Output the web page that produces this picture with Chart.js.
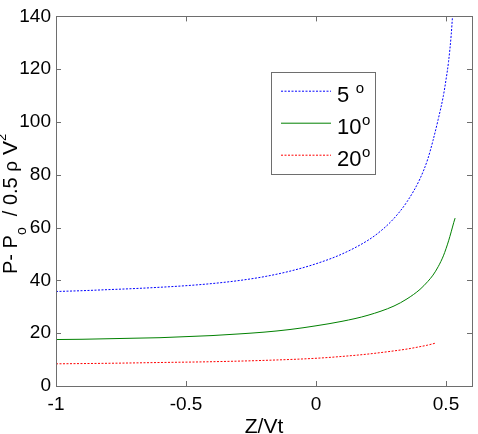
<!DOCTYPE html>
<html>
<head>
<meta charset="utf-8">
<script src="https://cdn.jsdelivr.net/npm/chart.js@4.4.1/dist/chart.umd.min.js"></script>
<style>
  html, body { margin: 0; padding: 0; background: #fff; }
</style>
</head>
<body>
<canvas id="chart" width="478" height="434"></canvas>
<script>
// ─── DATA ─────────────────────────────────────────────────────
const z5  = [-1, -0.9, -0.8, -0.7, -0.6, -0.5, -0.4, -0.3, -0.2, -0.1, 0, 0.1, 0.2, 0.25, 0.3, 0.35, 0.4, 0.43, 0.45, 0.47, 0.49, 0.5, 0.51, 0.52, 0.525];
const cp5 = [35.8, 36.1, 36.5, 36.9, 37.4, 38.0, 38.8, 39.9, 41.4, 43.5, 46.3, 50.0, 55.2, 58.8, 63.5, 69.8, 78.5, 86.0, 93.0, 101, 110, 116, 123, 133, 140];

const z10  = [-1, -0.9, -0.8, -0.7, -0.6, -0.5, -0.4, -0.3, -0.2, -0.1, 0, 0.1, 0.2, 0.3, 0.35, 0.4, 0.43, 0.45, 0.47, 0.49, 0.5, 0.51, 0.52, 0.53, 0.535];
const cp10 = [17.6, 17.7, 17.9, 18.1, 18.3, 18.7, 19.1, 19.7, 20.4, 21.4, 22.8, 24.5, 26.8, 30.3, 33.0, 36.6, 39.6, 42.0, 45.2, 49.3, 52.0, 55.0, 58.4, 62.0, 63.6];

const z20  = [-1, -0.8, -0.6, -0.4, -0.2, 0, 0.1, 0.2, 0.3, 0.35, 0.4, 0.43, 0.458];
const cp20 = [8.4, 8.6, 8.9, 9.2, 9.7, 10.5, 11.2, 12.1, 13.3, 14.0, 14.9, 15.5, 16.2];

const xTicks = [-1, -0.5, 0, 0.5];
const yTicks = [0, 20, 40, 60, 80, 100, 120, 140];
const angles = ['5 ', '10', '20'];

const FONT = '"Liberation Sans", Arial, Helvetica, sans-serif';
const AXIS = '#6e6e6e';

const toPts = (xs, ys) => xs.map((x, i) => ({ x, y: ys[i] }));

const series = [
    { data: toPts(z5, cp5),   color: '#0000ff', dash: [2, 1.5] },
    { data: toPts(z10, cp10), color: '#008000', dash: [] },
    { data: toPts(z20, cp20), color: '#ff0000', dash: [2, 1.5] },
];

// ─── DECORATION: box, inward ticks, legend, axis titles ──────
const frame = {
    id: 'frame',
    afterDraw(chart) {
        const { ctx, chartArea: a, scales: { x, y } } = chart;
        ctx.save();
        ctx.strokeStyle = AXIS;
        ctx.lineWidth = 1;
        ctx.strokeRect(Math.round(a.left) + 0.5, Math.round(a.top) + 0.5,
                       Math.round(a.right - a.left), Math.round(a.bottom - a.top));

        ctx.beginPath();
        xTicks.forEach(v => {
            const px = Math.round(x.getPixelForValue(v)) + 0.5;
            ctx.moveTo(px, a.bottom); ctx.lineTo(px, a.bottom - 5);
            ctx.moveTo(px, a.top);    ctx.lineTo(px, a.top + 5);
        });
        yTicks.forEach(v => {
            const py = Math.round(y.getPixelForValue(v)) + 0.5;
            ctx.moveTo(a.left, py);  ctx.lineTo(a.left + 5, py);
            ctx.moveTo(a.right, py); ctx.lineTo(a.right - 5, py);
        });
        ctx.stroke();

        // legend
        const lx = 271, ly = 72, lw = 104, lh = 102;
        ctx.fillStyle = '#fff';
        ctx.fillRect(lx, ly, lw, lh);
        ctx.strokeStyle = AXIS;
        ctx.strokeRect(lx + 0.5, ly + 0.5, lw, lh);
        series.forEach((s, i) => {
            const ry = 91 + i * 32;
            ctx.save();
            ctx.lineWidth = 1;
            ctx.strokeStyle = s.color;
            ctx.setLineDash(s.dash);
            ctx.beginPath();
            ctx.moveTo(281, ry + 0.2);
            ctx.lineTo(331, ry + 0.2);
            ctx.stroke();
            ctx.restore();
            ctx.fillStyle = '#000';
            ctx.textBaseline = 'alphabetic';
            ctx.textAlign = 'left';
            ctx.font = '22px ' + FONT;
            ctx.fillText(angles[i], 337, ry + 11);
            const w = ctx.measureText(angles[i]).width;
            ctx.font = '15px ' + FONT;
            ctx.fillText('o', 337 + w + 0.5, ry + 2);
        });

        // x title
        ctx.fillStyle = '#000';
        ctx.font = '21px ' + FONT;
        ctx.textAlign = 'center';
        ctx.fillText('Z/Vt', (a.left + a.right) / 2, 433);

        // y title: P- P_o / 0.5 rho V^2
        ctx.translate(17, 274);
        ctx.rotate(-Math.PI / 2);
        ctx.textAlign = 'left';
        const parts = [
            { t: 'P- P',     size: 20, dy: 0 },
            { t: 'o',        size: 14, dy: 9 },
            { t: '  / 0.5 ', size: 20, dy: 0 },
            { t: 'ρ',        size: 19, dy: 0 },
            { t: ' V',       size: 21, dy: 0 },
            { t: '2',        size: 13, dy: -11 },
        ];
        let cx = 0;
        parts.forEach(p => {
            ctx.font = p.size + 'px ' + FONT;
            ctx.fillText(p.t, cx, p.dy);
            cx += ctx.measureText(p.t).width;
        });
        ctx.restore();
    }
};

// ─── CHART ───────────────────────────────────────────────────
new Chart(document.getElementById('chart'), {
    type: 'line',
    data: {
        datasets: series.map(s => ({
            data: s.data,
            borderColor: s.color,
            borderWidth: 1,
            borderDash: s.dash,
            pointRadius: 0,
            fill: false,
            cubicInterpolationMode: 'monotone',
        }))
    },
    options: {
        responsive: false,
        animation: false,
        layout: { padding: { top: 12, right: 6, left: 0, bottom: 0 } },
        plugins: { legend: { display: false }, tooltip: { enabled: false } },
        scales: {
            x: {
                type: 'linear',
                min: -1, max: 0.6,
                afterBuildTicks: s => { s.ticks = xTicks.map(v => ({ value: v })); },
                afterFit: s => { s.height = 48; },
                grid: { display: false, drawTicks: false },
                border: { display: false },
                ticks: {
                    color: '#000', padding: 7, maxRotation: 0,
                    font: { family: FONT, size: 19 },
                    callback: v => String(v)
                }
            },
            y: {
                type: 'linear',
                min: 0, max: 140,
                afterBuildTicks: s => { s.ticks = yTicks.map(v => ({ value: v })); },
                afterFit: s => { s.width = 56; },
                grid: { display: false, drawTicks: false },
                border: { display: false },
                ticks: {
                    color: '#000', padding: 5,
                    font: { family: FONT, size: 19 },
                    callback: v => String(v)
                }
            }
        }
    },
    plugins: [frame]
});
</script>
</body>
</html>
